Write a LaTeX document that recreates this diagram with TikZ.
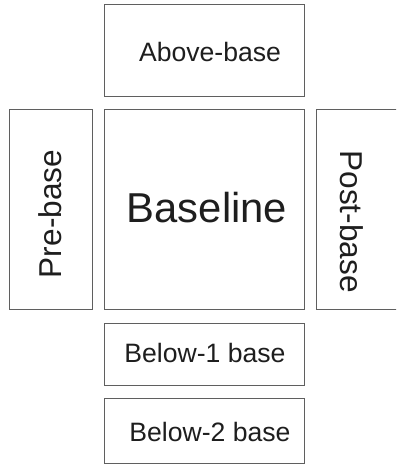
\documentclass[tikz,border=0pt]{standalone}
\usepackage{fontspec}
\setmainfont{Liberation Sans}
\definecolor{boxline}{RGB}{95,95,95}
\definecolor{txt}{RGB}{30,30,30}
\begin{document}
\begin{tikzpicture}[x=1pt,y=-1pt,
  boxnode/.style={draw=boxline, line width=1pt, inner sep=0pt, rectangle},
  lbl/.style={anchor=base, inner sep=0pt, text=txt},
  small/.style={font=\fontsize{26.6}{30}\selectfont},
  mid/.style={font=\fontsize{31.6}{36}\selectfont},
  big/.style={font=\fontsize{41.8}{48}\selectfont}]
\useasboundingbox (0,0) rectangle (396,465);
\begin{scope}
\clip (0,0) rectangle (396,465);
\node[boxnode, minimum width=200pt, minimum height=92pt] (above) at (204,51) {};
\node[boxnode, minimum width=83pt, minimum height=199pt] (pre) at (50.5,209.5) {};
\node[boxnode, minimum width=200pt, minimum height=199pt] (base) at (204,209.5) {};
\node[boxnode, minimum width=84pt, minimum height=199pt] (post) at (358,209.5) {};
\node[boxnode, minimum width=200pt, minimum height=62pt] (below1) at (204,354) {};
\node[boxnode, minimum width=200pt, minimum height=65pt] (below2) at (204,430.5) {};
\end{scope}
\node[lbl, small] (tabove) at (210,62) {Above-base};
\node[lbl, big] (tbase) at (207,222) {Baseline};
\node[lbl, mid, rotate=90] (tpre) at (61,214) {Pre-base};
\node[lbl, mid, rotate=-90] (tpost) at (340,221.5) {Post-base};
\node[lbl, small] (tb1) at (205,362) {Below-1 base};
\node[lbl, small] (tb2) at (210,441) {Below-2 base};
\end{tikzpicture}
\end{document}
